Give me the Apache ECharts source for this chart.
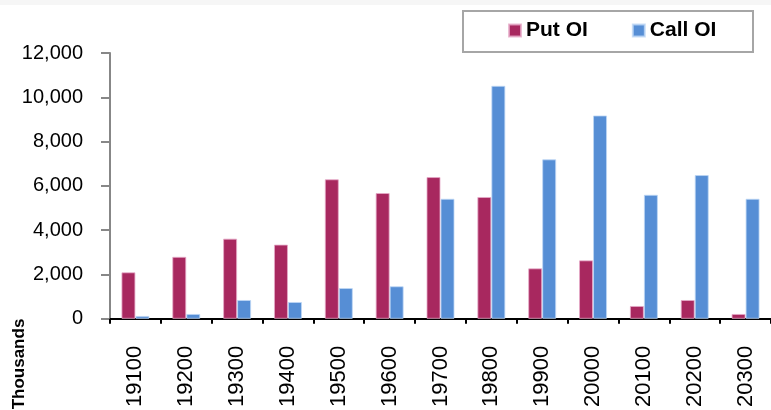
<!DOCTYPE html>
<html>
<head>
<meta charset="utf-8">
<script src="https://cdn.jsdelivr.net/npm/echarts@6/dist/echarts.min.js"></script>
<style>
  html, body { margin: 0; padding: 0; background: #fff; }
  #main { width: 771px; height: 410px; }
</style>
</head>
<body>
<div id="main"></div>
<script>
// strikes
const strikes = ["19100", "19200", "19300", "19400", "19500", "19600", "19700",
	"19800", "19900", "20000", "20100", "20200", "20300"];
// open interest, thousands
const putOI = [2100, 2800, 3620, 3350, 6300, 5680, 6400, 5500, 2280, 2640, 580, 850, 220];
const callOI = [130, 220, 850, 760, 1390, 1470, 5420, 10520, 7200, 9180, 5600, 6490, 5420];
const yTicks = [0, 2000, 4000, 6000, 8000, 10000, 12000];

const font = "'Liberation Sans', Arial, sans-serif";

const chart = echarts.init(document.getElementById("main"));
chart.setOption({
	animation: false,
	grid: {
		left: 110,
		right: -5,
		top: 53,
		bottom: 90,
		containLabel: false,
	},
	graphic: [
		// faint strip at the top edge
		{ type: "rect", shape: { x: 0, y: 0, width: 771, height: 5 }, style: { fill: "#f6f6f6" }, z: -1 },
		// legend box
		{
			type: "rect",
			shape: { x: 463, y: 11, width: 290, height: 41 },
			style: { fill: "#fff", stroke: "#a6a6a6", lineWidth: 2 },
			z: 0,
		},
		{
			type: "text",
			x: 19,
			y: 364,
			rotation: Math.PI / 2,
			style: {
				text: "Thousands",
				fontFamily: font,
				fontWeight: "bold",
				fontSize: 17,
				fill: "#000",
				align: "center",
				verticalAlign: "middle",
			},
		},
	],
	legend: {
		data: ["Put OI", "Call OI"],
		left: 508,
		top: 20,
		padding: 0,
		itemWidth: 12,
		itemHeight: 12,
		itemGap: 44,
		icon: "rect",
		z: 5,
		textStyle: {
			fontFamily: font,
			fontWeight: "bold",
			fontSize: 21,
			color: "#000",
		},
	},
	xAxis: {
		type: "category",
		data: strikes,
		axisLine: {
			lineStyle: { color: "#000", width: 2 },
		},
		axisTick: {
			show: true,
			length: 5,
			lineStyle: { color: "#000", width: 2 },
		},
		axisLabel: {
			interval: 0,
			rotate: 90,
			margin: 27,
			fontFamily: font,
			fontSize: 22,
			color: "#000",
		},
	},
	yAxis: {
		type: "value",
		min: 0,
		max: 12000,
		interval: 2000,
		axisLine: {
			show: true,
			lineStyle: { color: "#878787", width: 2 },
		},
		axisTick: {
			show: true,
			length: 9,
			lineStyle: { color: "#878787", width: 2 },
		},
		splitLine: { show: false },
		axisLabel: {
			margin: 27,
			fontFamily: font,
			fontSize: 20,
			color: "#000",
			formatter: (v) => (yTicks.includes(v) ? v.toLocaleString("en-US") : ""),
		},
	},
	series: [
		{
			name: "Put OI",
			type: "bar",
			barWidth: 14,
			barGap: "0%",
			itemStyle: {
				color: "#A8285F",
				borderColor: "rgba(230, 170, 200, 0.8)",
				borderWidth: 1,
			},
			data: putOI,
		},
		{
			name: "Call OI",
			type: "bar",
			barWidth: 14,
			itemStyle: {
				color: "#568ED5",
				borderColor: "rgba(190, 215, 245, 0.8)",
				borderWidth: 1,
			},
			data: callOI,
		},
	],
});
</script>
</body>
</html>
